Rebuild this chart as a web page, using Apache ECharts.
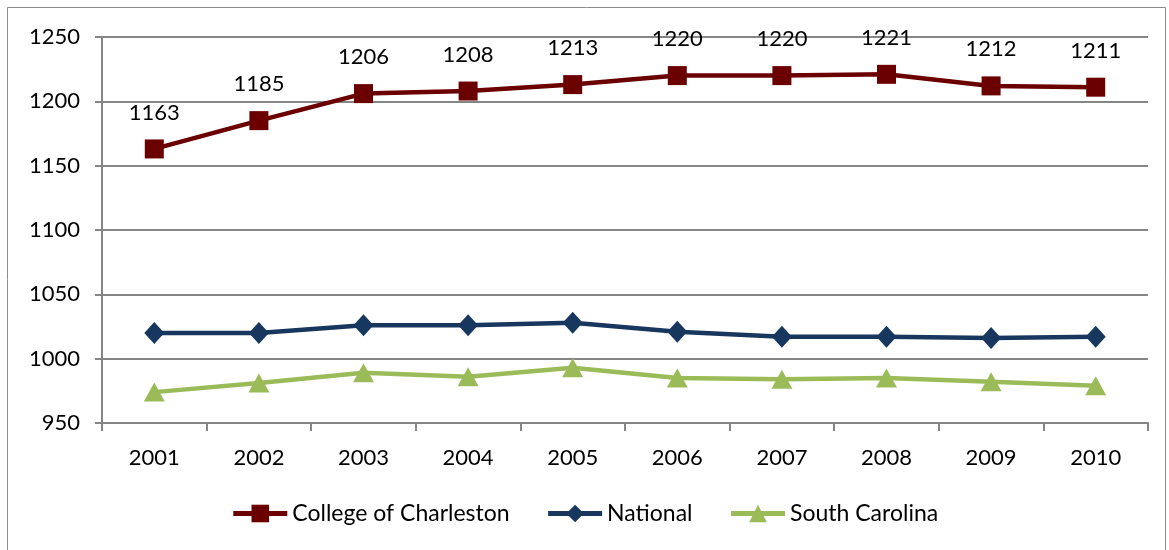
<!DOCTYPE html>
<html>
<head>
<meta charset="utf-8">
<script src="https://cdn.jsdelivr.net/npm/echarts@6/dist/echarts.min.js"></script>
<style>
  html, body { margin: 0; padding: 0; background: #fff; }
  #main { width: 1169px; height: 550px; }
</style>
</head>
<body>
<div id="main"></div>
<script>
// 年份
var years = ['2001', '2002', '2003', '2004', '2005', '2006', '2007', '2008', '2009', '2010'];
// 各系列数值
var charleston = [1163, 1185, 1206, 1208, 1213, 1220, 1220, 1221, 1212, 1211];
var national = [1020, 1020, 1026, 1026, 1028, 1021, 1017, 1017, 1016, 1017];
var southCarolina = [974, 981, 989, 986, 993, 985, 984, 985, 982, 979];

var font = 'Lato, "Open Sans", sans-serif';
var chart = echarts.init(document.getElementById('main'));

chart.setOption({
  animation: false,
  graphic: [{
    type: 'rect',
    shape: { x: 7.5, y: 7.5, width: 1158, height: 545 },
    style: { fill: 'none', stroke: '#8c8c8c', lineWidth: 1 }
  }],
  grid: { left: 102, right: 21, top: 37, bottom: 127 },
  legend: {
    bottom: 20,
    left: 'center',
    itemWidth: 54,
    itemHeight: 22,
    itemGap: 36,
    lineStyle: { width: 5 },
    textStyle: { fontFamily: font, fontSize: 23, color: '#000' },
    data: ['College of Charleston', 'National', 'South Carolina']
  },
  xAxis: {
    type: 'category',
    data: years,
    axisLine: { lineStyle: { color: '#868686', width: 2 } },
    axisTick: { show: true, length: 8, lineStyle: { color: '#868686', width: 2 } },
    axisLabel: { fontFamily: font, fontSize: 22, color: '#000', margin: 24 }
  },
  yAxis: {
    type: 'value',
    min: 950, max: 1250, interval: 50,
    axisLine: { show: true, lineStyle: { color: '#868686', width: 2 } },
    axisTick: { show: true, length: 7, lineStyle: { color: '#868686', width: 2 } },
    splitLine: { lineStyle: { color: '#868686', width: 2 } },
    axisLabel: {
      fontFamily: font, fontSize: 22, color: '#000', margin: 22,
      formatter: function (v) { return String(v); }
    }
  },
  series: [
    {
      name: 'College of Charleston', type: 'line', data: charleston,
      symbol: 'rect', symbolSize: 19,
      lineStyle: { color: '#6b0000', width: 4.5 },
      itemStyle: { color: '#6b0000' },
      label: { show: true, position: 'top', distance: 16, fontFamily: font, fontSize: 22, color: '#000' }
    },
    {
      name: 'National', type: 'line', data: national,
      symbol: 'diamond', symbolSize: [20, 22],
      lineStyle: { color: '#17375e', width: 4.5 },
      itemStyle: { color: '#17375e' }
    },
    {
      name: 'South Carolina', type: 'line', data: southCarolina,
      symbol: 'triangle', symbolSize: [21, 19],
      lineStyle: { color: '#9bbb59', width: 4.5 },
      itemStyle: { color: '#9bbb59' }
    }
  ]
});
</script>
</body>
</html>
